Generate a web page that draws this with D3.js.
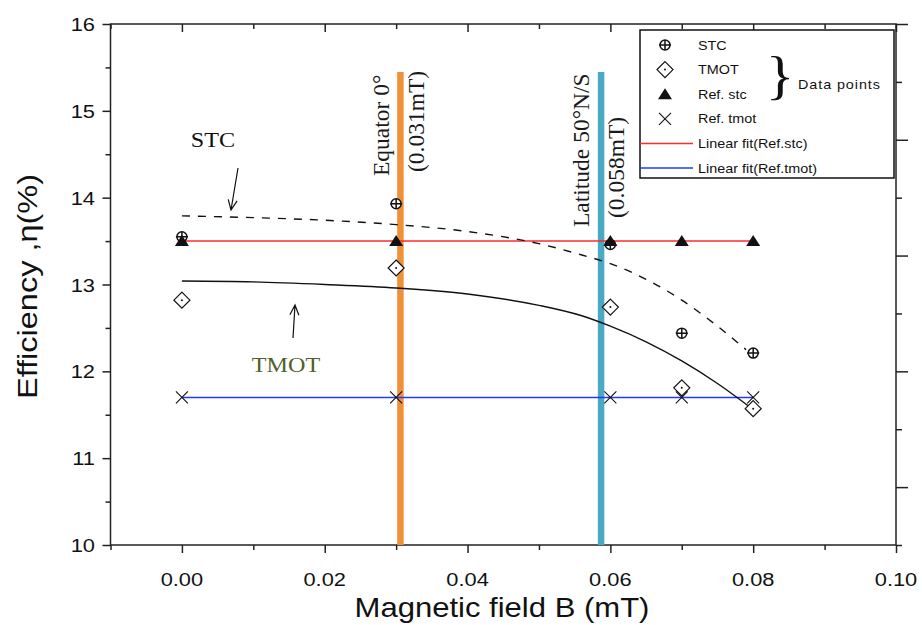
<!DOCTYPE html>
<html>
<head>
<meta charset="utf-8">
<script src="https://cdn.jsdelivr.net/npm/d3@7"></script>
<style>
  body { margin: 0; background: #fff; }
  svg { display: block; }
</style>
</head>
<body>
<div id="plot"></div>
<script>
// Data
var fieldB   = [0, 0.03, 0.06, 0.07, 0.08];
var stcEff   = [13.55, 13.93, 13.46, 12.44, 12.21];
var tmotEff  = [12.82, 13.19, 12.74, 11.81, 11.57];
var refStc   = [13.50, 13.50, 13.50, 13.50, 13.50];
var refTmot  = [11.70, 11.70, 11.70, 11.70, 11.70];

var fitB       = [0, 0.08];
var fitStcEff  = [13.50, 13.50];
var fitTmotEff = [11.70, 11.70];

// Fitted curves
var stcCurveB    = [0, 0.01, 0.02, 0.03, 0.04, 0.05, 0.056, 0.06, 0.065, 0.07, 0.075, 0.079];
var stcCurveEff  = [13.79, 13.77, 13.74, 13.69, 13.61, 13.47, 13.34, 13.24, 13.06, 12.82, 12.52, 12.25];
var tmotCurveB   = [0, 0.01, 0.02, 0.03, 0.04, 0.05, 0.056, 0.06, 0.065, 0.07, 0.075, 0.08];
var tmotCurveEff = [13.04, 13.03, 13.00, 12.96, 12.89, 12.76, 12.64, 12.52, 12.34, 12.12, 11.86, 11.56];

// Reference field lines
var markerB      = [0.0306, 0.0587];
var markerLabels = [["Equator 0°", "(0.031mT)"], ["Latitude 50°N/S", "(0.058mT)"]];

var xMajor = [0, 0.02, 0.04, 0.06, 0.08, 0.10];
var xMinor = [-0.01, 0.01, 0.03, 0.05, 0.07, 0.09];
var yMajor = [10, 11, 12, 13, 14, 15, 16];
var yMinor = [10.5, 11.5, 12.5, 13.5, 14.5, 15.5];

var W = 922, H = 625, sx = 1.15;
var pL = 110.5, pR = 896, pT = 24, pB = 545;

var svg = d3.select("#plot").append("svg")
	.attr("width", W).attr("height", H);

var x = d3.scaleLinear().domain([-0.01, 0.10]).range([pL, pR]);
var y = d3.scaleLinear().domain([10, 16]).range([pB, pT]);
var yR = d3.scaleLinear().domain([0, 4.5]).range([pB, pT]);

var sans = "'Liberation Sans', Arial, sans-serif",
	serif = "'Liberation Serif', 'Times New Roman', serif";

// stretched text helper (picture is widened horizontally)
function label(g, px, py, str, size, fam, anchor, color) {
	return g.append("text")
		.attr("transform", "translate(" + px + "," + py + ") scale(" + sx + ",1)")
		.attr("text-anchor", anchor || "start")
		.style("font-family", fam)
		.style("font-size", size + "px")
		.attr("fill", color || "#111")
		.text(str);
}

function styleAxis(g) {
	g.select(".domain").remove();
	g.selectAll("line").attr("stroke", "#222").attr("stroke-width", 1.5);
	g.selectAll("text").remove();
}

// Axes ticks
svg.append("g").attr("transform", "translate(0," + pB + ")")
	.call(d3.axisBottom(x).tickValues(xMajor).tickSize(8)).call(styleAxis);
svg.append("g").attr("transform", "translate(0," + pB + ")")
	.call(d3.axisBottom(x).tickValues(xMinor).tickSize(5)).call(styleAxis);
svg.append("g").attr("transform", "translate(0," + pT + ")")
	.call(d3.axisTop(x).tickValues(xMajor).tickSize(-8)).call(styleAxis);
svg.append("g").attr("transform", "translate(0," + pT + ")")
	.call(d3.axisTop(x).tickValues(xMinor).tickSize(-5)).call(styleAxis);
svg.append("g").attr("transform", "translate(" + pL + ",0)")
	.call(d3.axisLeft(y).tickValues(yMajor).tickSize(8)).call(styleAxis);
svg.append("g").attr("transform", "translate(" + pL + ",0)")
	.call(d3.axisLeft(y).tickValues(yMinor).tickSize(5)).call(styleAxis);
svg.append("g").attr("transform", "translate(" + pR + ",0)")
	.call(d3.axisRight(yR).tickValues([0.5, 1.5, 2.5, 3.5, 4.5]).tickSize(12)).call(styleAxis);
svg.append("g").attr("transform", "translate(" + pR + ",0)")
	.call(d3.axisRight(yR).tickValues([0, 1, 2, 3, 4]).tickSize(6)).call(styleAxis);

// frame
svg.append("rect")
	.attr("x", pL).attr("y", pT)
	.attr("width", pR - pL).attr("height", pB - pT)
	.attr("fill", "none").attr("stroke", "#222").attr("stroke-width", 1.5);

// tick labels
var fmt = d3.format(".2f");
xMajor.forEach(function(v) {
	label(svg, x(v), 586, fmt(v), 19, sans, "middle");
});
yMajor.forEach(function(v) {
	label(svg, 95, y(v) + 7, String(v), 19, sans, "end");
});

// axis titles
label(svg, 502, 617, "Magnetic field B (mT)", 27, sans, "middle");
svg.append("text")
	.attr("transform", "translate(37," + ((pT + pB) / 2 + 2) + ") rotate(-90)")
	.attr("text-anchor", "middle")
	.style("font-family", sans)
	.style("font-size", "27px")
	.attr("fill", "#111")
	.attr("textLength", 225)
	.attr("lengthAdjust", "spacingAndGlyphs")
	.text("Efficiency ,\u03b7(%)");

// vertical field lines
var markerColors = ["#f0913a", "#4aaac4"];
svg.selectAll(".vline").data(markerB).enter().append("line")
	.attr("x1", function(d) { return x(d); })
	.attr("x2", function(d) { return x(d); })
	.attr("y1", 72).attr("y2", pB)
	.attr("stroke", function(d, i) { return markerColors[i]; })
	.attr("stroke-width", 6.5);

// labels of vertical lines
var vlabelPos = [[[389, 176], [424, 172]], [[589, 227], [624, 218]]];
markerLabels.forEach(function(pair, i) {
	pair.forEach(function(str, j) {
		svg.append("text")
			.attr("transform", "translate(" + vlabelPos[i][j][0] + "," + vlabelPos[i][j][1] + ") rotate(-90)")
			.style("font-family", serif)
			.style("font-size", "23.5px")
			.attr("fill", "#1a1a1a")
			.text(str);
	});
});

// linear fits
var line = d3.line().x(function(d) { return x(d[0]); }).y(function(d) { return y(d[1]); });
svg.append("path").datum(d3.zip(fitB, fitStcEff)).attr("d", line)
	.attr("fill", "none").attr("stroke", "#ff2a2a").attr("stroke-width", 1.5);
svg.append("path").datum(d3.zip(fitB, fitTmotEff)).attr("d", line)
	.attr("fill", "none").attr("stroke", "#1e3cff").attr("stroke-width", 1.5);

// fitted curves
var curve = d3.line().curve(d3.curveMonotoneX)
	.x(function(d) { return x(d[0]); }).y(function(d) { return y(d[1]); });
svg.append("path").datum(d3.zip(stcCurveB, stcCurveEff)).attr("d", curve)
	.attr("fill", "none").attr("stroke", "#111").attr("stroke-width", 1.4)
	.attr("stroke-dasharray", "8,8");
svg.append("path").datum(d3.zip(tmotCurveB, tmotCurveEff)).attr("d", curve)
	.attr("fill", "none").attr("stroke", "#111").attr("stroke-width", 1.4);

// marker shapes
function stcMark(g) {
	g.append("circle").attr("r", 5).attr("fill", "#fff").attr("stroke", "#111").attr("stroke-width", 1.5);
	g.append("path").attr("d", "M-6,0H6M0,-5V5").attr("stroke", "#111").attr("stroke-width", 1.5);
}
function tmotMark(g) {
	g.append("path").attr("d", "M0,-8L8,0L0,8L-8,0Z").attr("fill", "#fff").attr("stroke", "#111").attr("stroke-width", 1.2);
	g.append("circle").attr("r", 1).attr("fill", "#111");
}
function refStcMark(g) {
	g.append("path").attr("d", "M0,-6L7,5H-7Z").attr("fill", "#111");
}
function refTmotMark(g) {
	g.append("path").attr("d", "M-6,-6L6,6M6,-6L-6,6").attr("stroke", "#111").attr("stroke-width", 1.1);
}

function drawPoints(xs, ys, mark) {
	svg.append("g").selectAll("g").data(d3.zip(xs, ys)).enter().append("g")
		.attr("transform", function(d) { return "translate(" + x(d[0]) + "," + y(d[1]) + ")"; })
		.each(function() { mark(d3.select(this)); });
}
drawPoints(fieldB, tmotEff, tmotMark);
drawPoints(fieldB, stcEff, stcMark);
drawPoints(fieldB, refTmot, refTmotMark);
drawPoints(fieldB, refStc, refStcMark);

// annotations
label(svg, 213, 147, "STC", 21, serif, "middle", "#111");
label(svg, 286, 372, "TMOT", 21, serif, "middle", "#4f6228");
function arrow(x1, y1, x2, y2) {
	var a = Math.atan2(y2 - y1, x2 - x1), L = 11, s = 0.42;
	var p = "M" + x1 + "," + y1 + "L" + x2 + "," + y2 +
		"M" + (x2 - L * Math.cos(a - s)) + "," + (y2 - L * Math.sin(a - s)) + "L" + x2 + "," + y2 +
		"L" + (x2 - L * Math.cos(a + s)) + "," + (y2 - L * Math.sin(a + s));
	svg.append("path").attr("d", p).attr("fill", "none").attr("stroke", "#111").attr("stroke-width", 1.2);
}
arrow(238, 168, 231, 210);
arrow(293, 338, 295, 305);

// legend
var legendItems = ["STC", "TMOT", "Ref. stc", "Ref. tmot", "Linear fit(Ref.stc)", "Linear fit(Ref.tmot)"];
var legendMarks = [stcMark, tmotMark, refStcMark, refTmotMark, null, null];
var legendLines = [null, null, null, null, "#ff2a2a", "#1e3cff"];
var lg = svg.append("g");
lg.append("rect").attr("x", 640).attr("y", 30).attr("width", 254).attr("height", 148)
	.attr("fill", "#fff").attr("stroke", "#111").attr("stroke-width", 1.5);
legendItems.forEach(function(name, i) {
	var ry = 45 + i * 24.6;
	if (legendMarks[i]) {
		var g = lg.append("g").attr("transform", "translate(665," + ry + ")");
		legendMarks[i](g);
	} else {
		lg.append("line").attr("x1", 640).attr("x2", 693).attr("y1", ry).attr("y2", ry)
			.attr("stroke", legendLines[i]).attr("stroke-width", 1.5);
	}
	label(lg, 698, ry + 4.5, name, 12.5, sans, "start", "#111");
});
label(lg, 780, 93, "}", 52, serif, "middle", "#111");
label(lg, 798, 89, "Data points", 12.5, sans, "start", "#111").style("letter-spacing", "0.8px");
</script>
</body>
</html>
